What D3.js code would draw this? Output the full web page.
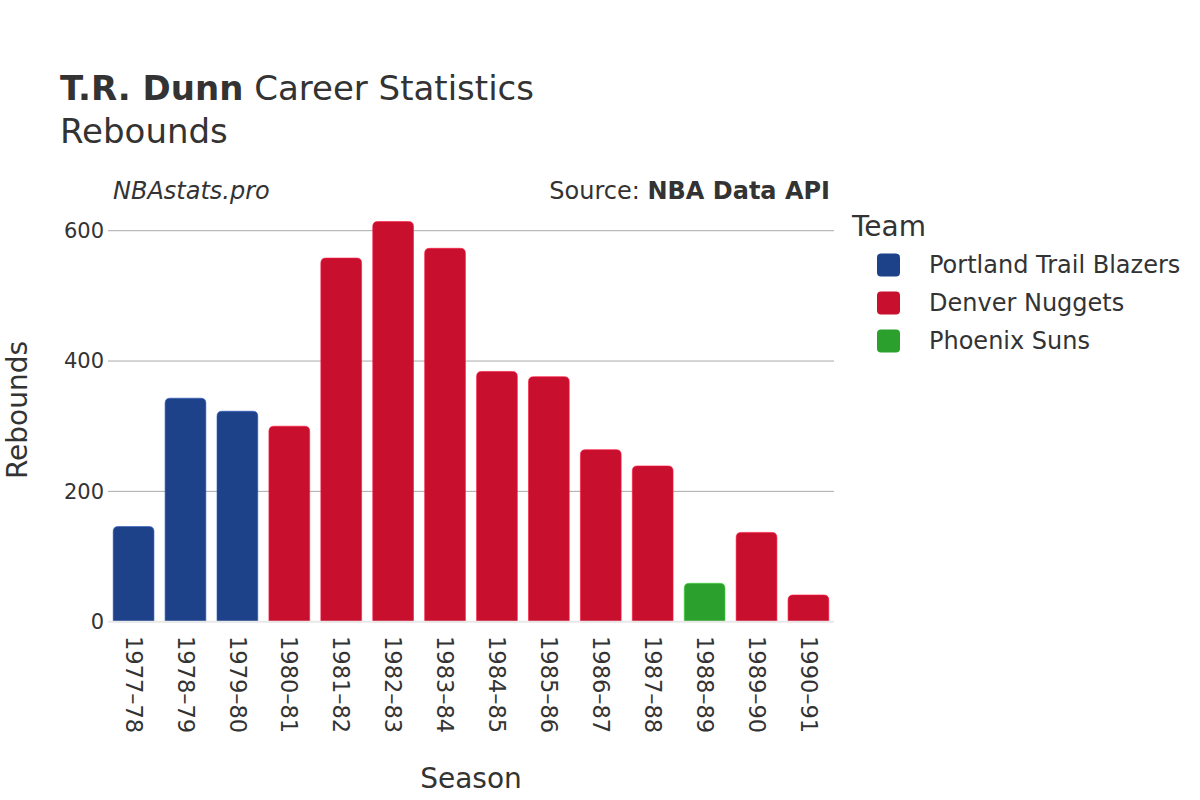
<!DOCTYPE html>
<html>
<head>
<meta charset="utf-8">
<script src="https://cdn.jsdelivr.net/npm/d3@7"></script>
<style>
  body { margin: 0; background: #fff; }
  svg { font-family: "DejaVu Sans", sans-serif; }
</style>
</head>
<body>
<svg id="chart" width="1200" height="800"></svg>
<script>
const seasons = ["1977–78","1978–79","1979–80","1980–81","1981–82","1982–83","1983–84","1984–85","1985–86","1986–87","1987–88","1988–89","1989–90","1990–91"];
const teams = ["Portland Trail Blazers","Portland Trail Blazers","Portland Trail Blazers","Denver Nuggets","Denver Nuggets","Denver Nuggets","Denver Nuggets","Denver Nuggets","Denver Nuggets","Denver Nuggets","Denver Nuggets","Phoenix Suns","Denver Nuggets","Denver Nuggets"];
const rebounds = [146, 343, 323, 300, 558, 614, 573, 384, 376, 264, 239, 59, 137, 41];
const legendTeams = ["Portland Trail Blazers","Denver Nuggets","Phoenix Suns"];
const teamColors = ["#1d428a","#c8102e","#2ca02c"];
const yTicks = [0, 200, 400, 600];

const svg = d3.select("#chart");
const textColor = "#333333";
const left = 108, right = 834, bottom = 621.7;

const x = d3.scaleBand().domain(seasons).range([left, right]).paddingInner(0.215).paddingOuter(0.1);
const y = d3.scaleLinear().domain([0, 600]).range([bottom, 230.7]);
const color = d3.scaleOrdinal().domain(legendTeams).range(teamColors);

// gridlines
svg.append("g").selectAll("line").data(yTicks.filter(d => d > 0)).join("line")
  .attr("x1", left).attr("x2", right)
  .attr("y1", d => y(d)).attr("y2", d => y(d))
  .attr("stroke", "#aaaaaa").attr("stroke-width", 1);

// bars with rounded top corners
function barPath(x0, y0, w, h, r) {
  r = Math.min(r, h, w / 2);
  return `M${x0},${y0 + h} V${y0 + r} Q${x0},${y0} ${x0 + r},${y0} H${x0 + w - r} Q${x0 + w},${y0} ${x0 + w},${y0 + r} V${y0 + h} Z`;
}
const data = seasons.map((s, i) => ({ s, team: teams[i], v: rebounds[i] }));
svg.append("g").selectAll("path").data(data).join("path")
  .attr("d", d => barPath(x(d.s), y(d.v), x.bandwidth(), bottom - y(d.v), 5))
  .attr("fill", d => color(d.team))
  .attr("stroke", d => d3.color(color(d.team)).brighter(0.8))
  .attr("stroke-width", 0.6);

// zero line
svg.append("line").attr("x1", left).attr("x2", right).attr("y1", bottom).attr("y2", bottom)
  .attr("stroke", "#e8e8e8").attr("stroke-width", 2);

// y axis labels
svg.append("g").selectAll("text").data(yTicks).join("text")
  .attr("x", 104).attr("y", d => y(d)).attr("dy", "0.35em")
  .attr("text-anchor", "end").attr("font-size", 21).attr("fill", textColor)
  .text(d => d);

// x axis labels
svg.append("g").selectAll("text").data(seasons).join("text")
  .attr("transform", d => `translate(${x(d) + x.bandwidth() / 2},636) rotate(90)`)
  .attr("dy", "0.35em").attr("text-anchor", "start")
  .attr("font-size", 22.5).attr("fill", textColor)
  .text(d => d);

// axis titles
svg.append("text").attr("x", 471).attr("y", 788).attr("text-anchor", "middle")
  .attr("font-size", 28).attr("fill", textColor).text("Season");
svg.append("text").attr("transform", "translate(17,410) rotate(-90)")
  .attr("dy", "0.35em").attr("text-anchor", "middle")
  .attr("font-size", 28).attr("fill", textColor).text("Rebounds");

// titles
const t = svg.append("text").attr("x", 60).attr("y", 100).attr("font-size", 34).attr("fill", textColor);
t.append("tspan").attr("font-weight", "bold").text("T.R. Dunn");
t.append("tspan").text(" Career Statistics");
svg.append("text").attr("x", 60).attr("y", 143).attr("font-size", 34).attr("fill", textColor).text("Rebounds");

svg.append("text").attr("x", 113).attr("y", 199).attr("font-size", 24).attr("font-style", "italic")
  .attr("fill", textColor).text("NBAstats.pro");
const src = svg.append("text").attr("x", 830).attr("y", 199).attr("font-size", 24)
  .attr("text-anchor", "end").attr("fill", textColor);
src.append("tspan").text("Source: ");
src.append("tspan").attr("font-weight", "bold").text("NBA Data API");

// legend
svg.append("text").attr("x", 852).attr("y", 236).attr("font-size", 28).attr("fill", textColor).text("Team");
const lg = svg.append("g").selectAll("g").data(legendTeams).join("g")
  .attr("transform", (d, i) => `translate(0,${265 + i * 38})`);
lg.append("rect").attr("x", 877).attr("y", -11.5).attr("width", 23).attr("height", 23)
  .attr("rx", 4).attr("fill", d => color(d));
lg.append("text").attr("x", 929).attr("y", 0).attr("dy", "0.35em")
  .attr("font-size", 24).attr("fill", textColor).text(d => d);
</script>
</body>
</html>
